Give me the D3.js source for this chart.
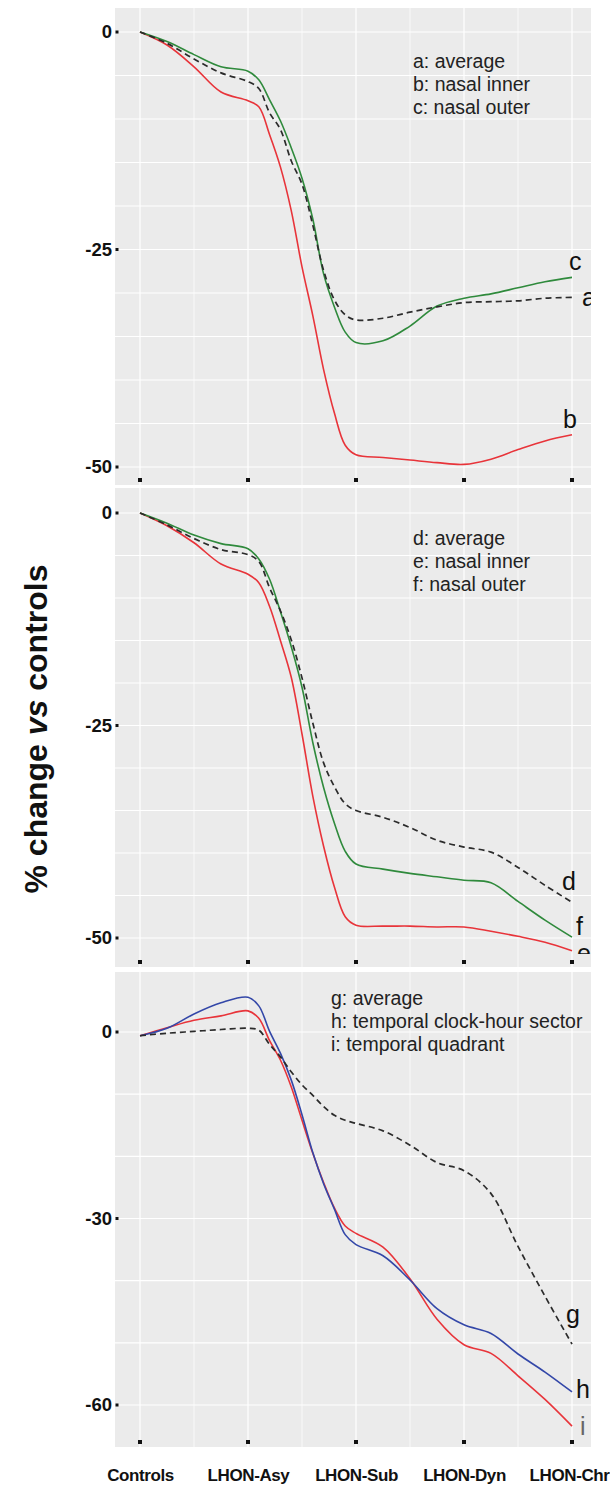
<!DOCTYPE html>
<html>
<head>
<meta charset="utf-8">
<script src="https://cdn.jsdelivr.net/npm/d3@7"></script>
<style>
  html, body { margin: 0; padding: 0; background: #fff; }
  svg { display: block; font-family: "Liberation Sans", Arial, sans-serif; }
</style>
</head>
<body>
<svg id="chart" width="610" height="1486"></svg>
<script>
// Disease stages along the x axis
const categories = ["Controls", "LHON-Asy", "LHON-Sub", "LHON-Dyn", "LHON-Chr"];

// Positions (in stage units) at which the smoothed curves are sampled
const positions = [0, 0.25, 0.5, 0.75, 1, 1.1, 1.2, 1.3, 1.4, 1.5, 1.6, 1.7, 1.8, 1.9, 2, 2.25, 2.5, 2.75, 3, 3.25, 3.5, 3.75, 4];

// Panel 1: % change vs controls
const averageA    = [0, -1.3, -3.1, -4.7, -5.7, -6.5, -9.3, -11.2, -14.8, -17.5, -22.2, -27.4, -30.8, -32.5, -33.1, -32.9, -32.2, -31.6, -31.1, -31.0, -30.9, -30.6, -30.5];
const nasalInnerB = [0, -1.5, -4.0, -6.9, -7.9, -8.6, -11.8, -15.5, -20.5, -27.0, -32.6, -38.8, -43.8, -47.5, -48.6, -48.9, -49.2, -49.5, -49.7, -49.1, -48.0, -47.0, -46.3];
const nasalOuterC = [0, -1.1, -2.6, -4.0, -4.5, -5.5, -7.8, -10.2, -13.3, -16.8, -21.5, -27.8, -31.6, -34.5, -35.7, -35.5, -33.8, -31.5, -30.6, -30.1, -29.4, -28.7, -28.2];

// Panel 2
const averageD    = [0, -1.4, -3.0, -4.3, -4.9, -5.7, -8.8, -11.5, -14.9, -19.4, -24.7, -29.4, -32.2, -34.2, -35.0, -35.8, -37.0, -38.5, -39.3, -39.9, -41.7, -43.8, -45.8];
const nasalInnerE = [0, -1.5, -3.5, -6.0, -7.2, -8.2, -11.0, -15.0, -19.3, -26.0, -33.3, -39.2, -44.0, -47.5, -48.5, -48.6, -48.6, -48.7, -48.7, -49.2, -49.8, -50.5, -51.5];
const nasalOuterF = [0, -1.2, -2.6, -3.6, -4.2, -5.4, -7.8, -11.6, -15.7, -20.5, -27.0, -32.3, -36.5, -39.8, -41.3, -41.9, -42.4, -42.8, -43.2, -43.5, -45.7, -47.9, -49.9];

// Panel 3
const averageG       = [-0.6, -0.2, 0.1, 0.4, 0.6, 0.3, -2.0, -4.0, -6.4, -8.5, -10.2, -12.0, -13.4, -14.2, -14.7, -15.9, -18.2, -21.0, -22.3, -26.0, -34.5, -42.5, -50.2];
const temporalClockH = [-0.6, 0.6, 2.9, 4.7, 5.6, 4.2, 0.1, -3.4, -7.7, -13.3, -19.4, -24.4, -28.5, -32.6, -34.2, -36.0, -39.9, -44.5, -47.1, -48.5, -51.8, -54.7, -57.9];
const temporalQuadI  = [-0.6, 0.7, 1.9, 2.6, 3.4, 2.2, -1.4, -4.5, -8.8, -14.2, -19.5, -24.2, -28.3, -31.2, -32.4, -34.6, -39.7, -46.2, -50.3, -51.7, -55.3, -59.1, -63.4];

// Y tick labels per panel
const ticksTop    = [0, -25, -50];
const ticksMiddle = [0, -25, -50];
const ticksBottom = [0, -30, -60];

// Legend texts
const legendTop    = ["a: average", "b: nasal inner", "c: nasal outer"];
const legendMiddle = ["d: average", "e: nasal inner", "f: nasal outer"];
const legendBottom = ["g: average", "h: temporal clock-hour sector", "i: temporal quadrant"];

const COL = { avg: "#2b2b2b", red: "#e8343a", green: "#2f8a3c", blue: "#3347a8" };

const svg = d3.select("#chart");
const left = 115, right = 591, pageRight = 610;

// x scales: a point scale for the stage ticks, a linear one for sampled curve positions
const xPoint = d3.scalePoint().domain(categories).range([140, 572]);
const xPos = d3.scaleLinear().domain([0, categories.length - 1]).range([140, 572]);

const panels = [
  {
    top: 8, bottom: 485, y: d3.scaleLinear().domain([0, -50]).range([32, 467]),
    grid: 5, ticks: ticksTop, legend: legendTop, legendX: 413, legendY: 68,
    series: [
      { v: nasalInnerB, color: COL.red, label: "b", lx: 563, ly: 428 },
      { v: nasalOuterC, color: COL.green, label: "c", lx: 569, ly: 270 },
      { v: averageA, color: COL.avg, dash: true, label: "a", lx: 582, ly: 306 }
    ]
  },
  {
    top: 488, bottom: 967, y: d3.scaleLinear().domain([0, -50]).range([513, 938]),
    grid: 5, ticks: ticksMiddle, legend: legendMiddle, legendX: 413, legendY: 545,
    series: [
      { v: nasalInnerE, color: COL.red, label: "e", lx: 577, ly: 962, cut: 954 },
      { v: nasalOuterF, color: COL.green, label: "f", lx: 576, ly: 935 },
      { v: averageD, color: COL.avg, dash: true, label: "d", lx: 562, ly: 890 }
    ]
  },
  {
    top: 972, bottom: 1447, y: d3.scaleLinear().domain([0, -60]).range([1032, 1405]),
    grid: 10, ticks: ticksBottom, legend: legendBottom, legendX: 331, legendY: 1005,
    series: [
      { v: temporalQuadI, color: COL.red, label: "i", lx: 580, ly: 1435, faint: true },
      { v: temporalClockH, color: COL.blue, label: "h", lx: 576, ly: 1398 },
      { v: averageG, color: COL.avg, dash: true, label: "g", lx: 566, ly: 1323 }
    ]
  }
];

const defs = svg.append("defs");

panels.forEach((p, i) => {
  const g = svg.append("g").attr("class", "panel-" + i);
  const y = p.y;

  // background
  g.append("rect")
    .attr("x", left).attr("y", p.top)
    .attr("width", right - left).attr("height", p.bottom - p.top)
    .attr("fill", "#ebebeb");

  // horizontal grid
  const yLo = y.invert(p.bottom), yHi = y.invert(p.top);
  const hVals = d3.range(Math.ceil(yLo / p.grid) * p.grid, yHi + 1e-9, p.grid);
  g.selectAll("line.hgrid").data(hVals).join("line")
    .attr("class", "hgrid")
    .attr("x1", left).attr("x2", right)
    .attr("y1", d => y(d)).attr("y2", d => y(d))
    .attr("stroke", "#fff").attr("stroke-width", 1.1);

  // vertical grid: stages and midpoints
  const vVals = d3.range(-0.5, categories.length + 0.01, 0.5);
  g.selectAll("line.vgrid").data(vVals).join("line")
    .attr("class", "vgrid")
    .attr("x1", d => xPos(d)).attr("x2", d => xPos(d))
    .attr("y1", p.top).attr("y2", p.bottom)
    .attr("stroke", "#fff")
    .attr("stroke-width", d => Number.isInteger(d) ? 1.2 : 0.7)
    .attr("display", d => (xPos(d) > left && xPos(d) < right) ? null : "none");

  // y axis labels
  const yAxis = d3.axisLeft(y).tickValues(p.ticks).tickSize(0).tickPadding(3)
    .tickFormat(d => String(d));
  const ya = g.append("g").attr("transform", `translate(${left},0)`).call(yAxis);
  ya.select(".domain").remove();
  ya.selectAll("text")
    .attr("font-family", "Liberation Sans, Arial, sans-serif")
    .attr("font-size", 18.5).attr("font-weight", "bold").attr("fill", "#111");

  // y tick dots
  g.selectAll("rect.ytick").data(p.ticks).join("rect")
    .attr("class", "ytick")
    .attr("x", left + 0.5).attr("y", d => y(d) - 1.5)
    .attr("width", 3).attr("height", 3).attr("fill", "#111");

  // x tick dots at the bottom of each panel
  g.selectAll("rect.xtick").data(categories).join("rect")
    .attr("class", "xtick")
    .attr("x", d => xPoint(d) - 2).attr("y", p.bottom - 7)
    .attr("width", 4).attr("height", 4).attr("fill", "#111");

  // curves
  const line = d3.line()
    .x((d, k) => xPos(positions[k]))
    .y(d => y(d))
    .curve(d3.curveCatmullRom.alpha(0.5));

  p.series.forEach(s => {
    g.append("path")
      .attr("d", line(s.v))
      .attr("fill", "none")
      .attr("stroke", s.color)
      .attr("stroke-width", s.dash ? 1.7 : 1.6)
      .attr("stroke-dasharray", s.dash ? "6,4" : null)
      .attr("stroke-linejoin", "round");
  });

  // curve end labels (clipped to the panel)
  const clipId = "clip-" + i;
  defs.append("clipPath").attr("id", clipId).append("rect")
    .attr("x", left).attr("y", p.top).attr("width", right - left).attr("height", p.bottom - p.top);
  p.series.forEach((s, k) => {
    let clip = clipId;
    if (s.cut) {
      const cid = clipId + "-" + k;
      defs.append("clipPath").attr("id", cid).append("rect")
        .attr("x", left).attr("y", p.top).attr("width", right - left).attr("height", s.cut - p.top);
      clip = cid;
    }
    g.append("text")
      .attr("x", s.lx).attr("y", s.ly)
      .attr("clip-path", `url(#${clip})`)
      .attr("font-size", 25)
      .attr("fill", s.faint ? "#666" : "#111")
      .attr("font-weight", s.faint ? 300 : "normal")
      .text(s.label);
  });

  // legend
  g.selectAll("text.legend").data(p.legend).join("text")
    .attr("class", "legend")
    .attr("x", p.legendX)
    .attr("y", (d, k) => p.legendY + k * 23)
    .attr("font-size", 19.5)
    .attr("fill", "#222")
    .text(d => d);
});

// x axis labels under the last panel
const xAxis = d3.axisBottom(xPoint).tickSize(0).tickPadding(22);
const xa = svg.append("g").attr("transform", `translate(0,${panels[2].bottom})`).call(xAxis);
xa.select(".domain").remove();
xa.selectAll("text")
  .attr("font-family", "Liberation Sans, Arial, sans-serif")
  .attr("font-size", 17).attr("font-weight", "bold").attr("fill", "#111")
  .attr("letter-spacing", -0.4);
// the last stage label sits against the right page edge
xa.selectAll(".tick").filter((d, k, n) => k === n.length - 1).select("text")
  .attr("text-anchor", "end")
  .attr("x", pageRight - 1 - xPoint(categories[categories.length - 1]));

// y axis title
const title = svg.append("text")
  .attr("transform", "translate(47,729) rotate(-90)")
  .attr("text-anchor", "middle")
  .attr("font-size", 32).attr("font-weight", "bold").attr("fill", "#111");
title.append("tspan").text("% change ");
title.append("tspan").attr("font-style", "italic").text("vs");
title.append("tspan").text(" controls");
</script>
</body>
</html>
